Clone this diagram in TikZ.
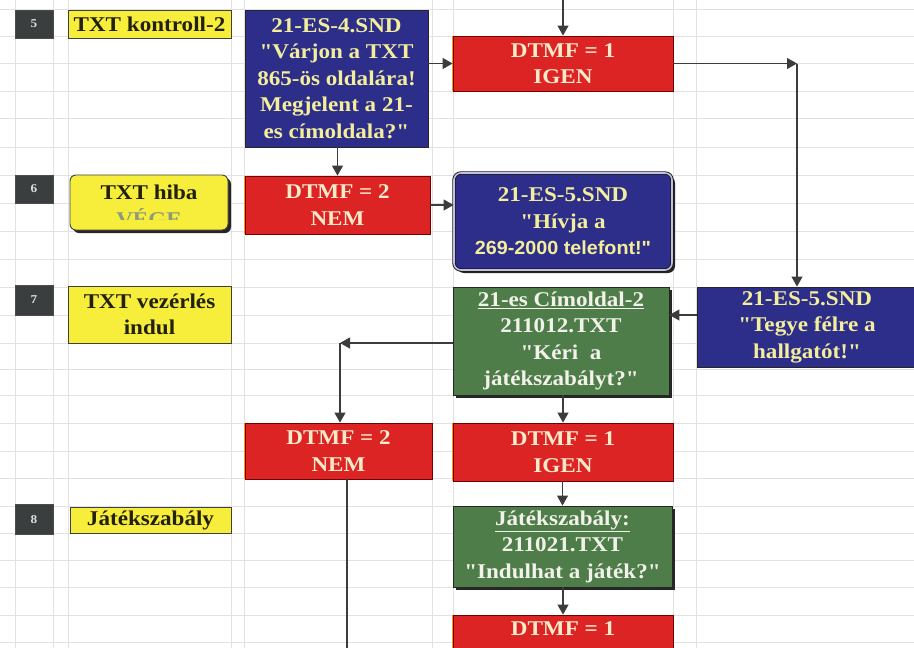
\documentclass[tikz,border=0pt]{standalone}
\usepackage{fontspec}
\setmainfont{Liberation Serif}[Ligatures=TeXOff, FakeStretch=1.1]
\newfontfamily\sansbold{Liberation Sans}[FakeStretch=1.04]
\usetikzlibrary{arrows.meta,shadows,calc}
\definecolor{cyel}{HTML}{F7EE3C}
\definecolor{cred}{HTML}{DC2424}
\definecolor{cblue}{HTML}{2C2E8A}
\definecolor{cgreen}{HTML}{4E7D4A}
\definecolor{cnum}{HTML}{3A3E3E}
\definecolor{tyel}{HTML}{F4EE9C}
\definecolor{tcream}{HTML}{FBEBCB}
\definecolor{twhite}{HTML}{F2F2EA}
\definecolor{tdark}{HTML}{22200E}
\definecolor{tvege}{HTML}{8E9A78}
\definecolor{cgrid}{HTML}{E2E2E2}
\definecolor{carrow}{HTML}{3C3C3C}
\tikzset{
  txt/.style={inner sep=0pt, align=center, font=\bfseries\fontsize{21}{26.5}\selectfont},
  numbox/.style={fill=cnum, draw=black!70, line width=0.6pt, inner sep=0pt,
     minimum width=38pt, text=white!88!black, font=\bfseries\fontsize{12}{14}\selectfont},
  yelbox/.style={txt, fill=cyel, draw=black!75, line width=0.9pt, text=tdark},
  redbox/.style={txt, fill=cred, draw=red!45!black, line width=0.8pt, text=tcream},
  bluebox/.style={txt, fill=cblue, draw=black!85, line width=0.9pt, text=tyel},
  greenbox/.style={txt, fill=cgreen, draw=black!85, line width=0.9pt, text=twhite,
     drop shadow={shadow xshift=3pt, shadow yshift=-3pt, fill=black!85, opacity=1}},
  arr/.style={draw=carrow, line width=1.1pt, -{Triangle[length=10pt,width=11pt]}},
  plainline/.style={draw=carrow, line width=1.1pt},
  orangeedge/.style={draw=orange!85!yellow, line width=1.4pt}
}
\begin{document}
\begin{tikzpicture}[x=1pt,y=-1pt]
\clip (0,0) rectangle (914,648);
\fill[white] (0,0) rectangle (914,648);
% spreadsheet grid
\foreach \gy in {9,36,63,91,118,147,175,203,231,259,287,315,343,369,395,423,451,478,506,533,560,587,615,642}
  \draw[cgrid, line width=0.6pt] (0,\gy) -- (914,\gy);
\foreach \gx in {15,53,68,231,244,432,453,673,696}
  \draw[cgrid, line width=0.6pt] (\gx,0) -- (\gx,648);

% row numbers
\node[numbox, minimum height=28pt] (n5) at (34,24) {5};
\node[numbox, minimum height=28pt] (n6) at (34,189) {6};
\node[numbox, minimum height=30pt] (n7) at (34,300) {7};
\node[numbox, minimum height=30pt] (n8) at (34,519.5) {8};

% yellow labels
\node[yelbox, minimum width=163pt, minimum height=28pt] (l5) at (149.5,24) {TXT kontroll-2};
\node[yelbox, rounded corners=6pt, minimum width=158pt, minimum height=55pt,
      drop shadow={shadow xshift=3pt, shadow yshift=-3pt, fill=black!85, opacity=1}] (l6) at (149,202.5) {};
\node[txt, text=tdark, anchor=base] (l6a) at (149,199) {TXT hiba};
\begin{scope}
  \clip (60,170) rectangle (240,219);
  \node[txt, text=tvege, anchor=base] (l6b) at (149,226) {VÉGE};
\end{scope}
\node[yelbox, minimum width=163pt, minimum height=57pt] (l7) at (149.5,314.5) {TXT vezérlés\\indul};
\node[yelbox, minimum width=161pt, minimum height=26pt] (l8) at (150.5,520) {Játékszabály};

% column E
\node[bluebox, minimum width=183pt, minimum height=137pt] (b4) at (336.5,78.5)
  {21-ES-4.SND\\"Várjon a TXT\\865-ös oldalára!\\Megjelent a 21-\\es címoldala?"};
\node[redbox, minimum width=185pt, minimum height=58pt] (r6) at (337.5,205) {DTMF = 2\\NEM};
\node[redbox, minimum width=187pt, minimum height=56pt] (r7a) at (338.5,451) {DTMF = 2\\NEM};

% column G
\node[redbox, minimum width=220pt, minimum height=55pt] (r5) at (563,63.5) {DTMF = 1\\IGEN};
\node[bluebox, rounded corners=7pt, minimum width=218pt, minimum height=97pt,
      draw=black!90, double=white!70!cblue, double distance=1.6pt,
      drop shadow={shadow xshift=3pt, shadow yshift=-3pt, fill=black!85, opacity=1}] (hiv) at (563,221.5)
  {21-ES-5.SND\\"Hívja a\\{\sansbold\fontsize{19}{26.5}\selectfont 269-2000 telefont!"}};
\node[greenbox, minimum width=216pt, minimum height=108pt] (cim) at (561,341)
  {\underline{21-es Címoldal-2}\\211012.TXT\\"Kéri\ \ a\\játékszabályt?"};
\node[redbox, minimum width=220pt, minimum height=58pt] (r7b) at (563,452) {DTMF = 1\\IGEN};
\node[greenbox, minimum width=219pt, minimum height=81pt] (jat) at (562.5,546.5)
  {\underline{Játékszabály:}\\211021.TXT\\"Indulhat a játék?"};
\node[redbox, minimum width=220pt, minimum height=60pt] (r8) at (563,645) {};
\node[txt, text=tcream, anchor=base] (r8t) at (563,635) {DTMF = 1};

% column I
\node[bluebox, minimum width=220pt, minimum height=80pt] (tg) at (807,327)
  {21-ES-5.SND\\"Tegye félre a\\hallgatót!"};

% orange left edges of red boxes
\foreach \r in {r5,r6,r7a,r7b,r8}
  \draw[orangeedge] (\r.north west) -- (\r.south west);

% connectors
\coordinate (top) at (563,-2);
\coordinate (c1) at (797,63.5);
\coordinate (c2) at (697,315);
\coordinate (c3) at (340,343);
\coordinate (c4) at (347,660);
\draw[arr] (top) -- (r5.north);
\draw[arr] (b4.east |- r5.west) -- (r5.west);
\draw[arr] (b4.south -| r6.north) -- (r6.north);
\draw[arr] (r6.east) -- (r6.east -| hiv.west);
\draw[arr] (r5.east) -- (c1);
\draw[arr] (c1) -- (c1 |- tg.north);
\draw[arr] (c2) -- (cim.east |- c2);
\draw[arr] (cim.west |- c3) -- (c3);
\draw[arr] (c3) -- (c3 |- r7a.north);
\draw[arr] (r7b.north |- cim.south) -- (r7b.north);
\draw[arr] (r7b.south -| jat.north) -- (jat.north);
\draw[arr] (jat.south -| r8.north) -- (r8.north);
\draw[plainline] (r7a.south -| c4) -- (c4);
\end{tikzpicture}
\end{document}
